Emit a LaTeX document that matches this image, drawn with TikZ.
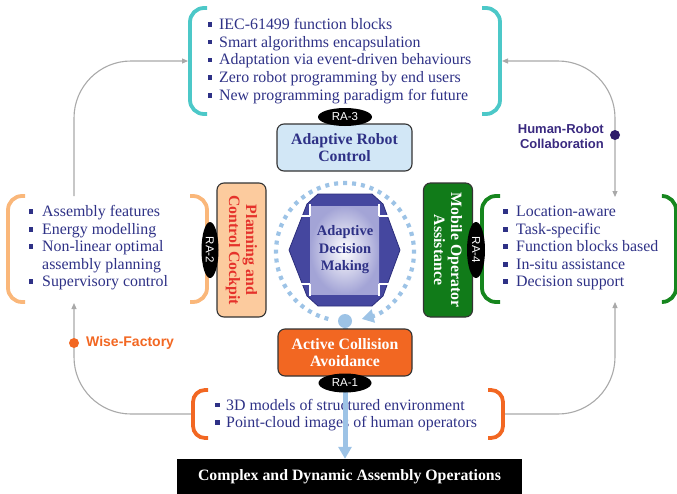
\documentclass[tikz,border=0pt]{standalone}
\usepackage{fontspec}
\setmainfont{Liberation Serif}
\newfontfamily\arialf{Liberation Sans}
\usetikzlibrary{shapes.geometric,arrows.meta}

\definecolor{navytxt}{HTML}{2E3186}
\definecolor{tealc}{HTML}{4CC8C8}
\definecolor{peachline}{HTML}{FAB77A}
\definecolor{peachfill}{HTML}{FCCB9E}
\definecolor{greenc}{HTML}{16861E}
\definecolor{greenbox}{HTML}{117B19}
\definecolor{orangec}{HTML}{F26722}
\definecolor{flowgrey}{HTML}{A9A9A9}
\definecolor{skyline}{HTML}{9DC3E6}
\definecolor{lightbluebox}{HTML}{D2E7F6}
\definecolor{redtxt}{HTML}{E5322B}
\definecolor{hrc}{HTML}{3A2A80}
\definecolor{hrcdot}{HTML}{2E1B6B}
\definecolor{admfill}{HTML}{45479F}
\definecolor{admedge}{HTML}{2C2E7C}
\definecolor{admlight}{HTML}{A3A4D6}

\tikzset{
  item/.style={anchor=base west, inner sep=0pt, font=\fontsize{15.9}{17}\selectfont, text=navytxt},
  bul/.style={fill=navytxt, minimum size=4.6pt, inner sep=0pt, draw=none},
  ratag/.style={ellipse, fill=black, text=white, inner sep=0pt,
                font=\arialf\fontsize{11.5}{12}\selectfont},
  boxbase/.style={rounded corners=7pt, draw=black!80, line width=1.1pt,
                  font=\bfseries\fontsize{15.8}{17}\selectfont, align=center, inner sep=0pt},
  brk/.style={line width=3.8pt, rounded corners=14pt},
  flowline/.style={draw=flowgrey, line width=1.1pt, rounded corners=57pt},
  gtip/.tip={Triangle[length=6pt,width=5pt]},
  bluetip/.tip={Triangle[length=12pt,width=13pt]},
  dotmark/.style={circle, minimum size=10pt, inner sep=0pt},
}

\begin{document}
\begin{tikzpicture}[x=1pt,y=-1pt]
\useasboundingbox (0,0) rectangle (677,493);

% anchor points on the brackets for the outer loop
\coordinate (botW) at (192,414);
\coordinate (botE) at (504,414);
\coordinate (lftTop) at (74,196);
\coordinate (lftBot) at (74,303);
\coordinate (topW) at (188,61);
\coordinate (topE) at (502,61);
\coordinate (rgtTop) at (615,197);
\coordinate (rgtBot) at (615,302);

% outer grey loop
\draw[flowline, -gtip] (botW) -- (botW -| lftBot) -- (lftBot);
\draw[flowline, -gtip] (lftTop) -- (lftTop |- topW) -- (topW);
\draw[flowline, gtip-gtip] (topE) -- (topE -| rgtTop) -- (rgtTop);
\draw[flowline, -gtip] (botE) -- (botE -| rgtBot) -- (rgtBot);

% loop markers
\node[dotmark, fill=orangec] (wfdot) at (74,343) {};
\node[anchor=west, inner sep=0pt, text=orangec, font=\arialf\bfseries\fontsize{14}{16}\selectfont] (wf) at (86,343) {Wise-Factory};
\node[dotmark, fill=hrcdot] (hrcdotn) at (615,135) {};
\node[anchor=east, inner sep=0pt, align=right, text=hrc, font=\arialf\bfseries\fontsize{13}{15}\selectfont] (hrcl) at (604,136) {Human-Robot\\Collaboration};

% brackets
\draw[brk, tealc] (207,8) -- (190,8) -- (190,114) -- (207,114);
\draw[brk, tealc] (482,8) -- (500,8) -- (500,114) -- (482,114);
\draw[brk, peachline] (25,196) -- (8,196) -- (8,302) -- (25,302);
\draw[brk, peachline] (190,196) -- (207,196) -- (207,302) -- (190,302);
\draw[brk, greenc] (500,196) -- (482,196) -- (482,302) -- (500,302);
\draw[brk, greenc] (663,196) -- (676,196) -- (676,302) -- (663,302);
\draw[brk, orangec, rounded corners=12pt] (208,390) -- (193,390) -- (193,438) -- (208,438);
\draw[brk, orangec, rounded corners=12pt] (488,390) -- (503,390) -- (503,438) -- (488,438);

% RA-3 list
\foreach \t [count=\i] in {IEC-61499 function blocks, Smart algorithms encapsulation,
    Adaptation via event-driven behaviours, Zero robot programming by end users,
    New programming paradigm for future} {
  \node[item] (ltop\i) at (219,{29.3+17.75*(\i-1)}) {\t};
  \node[bul] (btop\i) at (210,{24.3+17.75*(\i-1)}) {};
}

% RA-2 list
\foreach \t/\b [count=\i] in {Assembly features/1, Energy modelling/1, Non-linear optimal/1,
    assembly planning/0, Supervisory control/1} {
  \node[item] (llft\i) at (42,{216.7+17.5*(\i-1)}) {\t};
  \ifnum\b=1 \node[bul] (blft\i) at (31,{211.7+17.5*(\i-1)}) {}; \fi
}

% RA-4 list
\foreach \t [count=\i] in {Location-aware, Task-specific, Function blocks based,
    In-situ assistance, Decision support} {
  \node[item] (lrgt\i) at (516,{216.7+17.5*(\i-1)}) {\t};
  \node[bul] (brgt\i) at (505.5,{211.7+17.5*(\i-1)}) {};
}

% RA-1 list
\foreach \t [count=\i] in {3D models of structured environment, Point-cloud images of human operators} {
  \node[item] (lbot\i) at (226,{410+17.5*(\i-1)}) {\t};
  \node[bul] (bbot\i) at (217.5,{405+17.5*(\i-1)}) {};
}

% central four-way arrow
\coordinate (dmc) at (345,252);
\filldraw[fill=admfill, draw=admedge, line width=0.8pt]
  (289,250) -- (307,204) -- (318,194) -- (372,194) -- (383,204) -- (400,250)
  -- (383,296) -- (372,306) -- (318,306) -- (307,296) -- cycle;
\shade[inner color=white, outer color=admlight] (310,206) rectangle (379,294);
\draw[white, line width=1.6pt]
  (310,204) -- (310,216) (379,204) -- (379,216)
  (310,284) -- (310,296) (379,284) -- (379,296)
  (299,216) -- (310,216) (379,216) -- (390,216)
  (299,284) -- (310,284) (379,284) -- (390,284);
\node[align=center, inner sep=0pt, text=navytxt, font=\bfseries\fontsize{14.5}{17.5}\selectfont] (adm) at (345,250) {Adaptive\\Decision\\Making};

% dotted cycle around the decision core
\draw[skyline, line width=4.2pt, dash pattern=on 4pt off 5pt, -bluetip]
  ([shift={(104:69)}]dmc) arc[start angle=104, end angle=436, radius=69];

% main boxes
\node[dotmark, fill=skyline, minimum size=14pt] (sdot) at (345,321) {};
\node[fill=black, text=white, minimum width=345pt, minimum height=36pt, inner sep=0pt,
      font=\bfseries\fontsize{15.8}{17}\selectfont] (cdao) at (349.5,477) {Complex and Dynamic Assembly Operations};
\draw[skyline, line width=5pt, -bluetip] (sdot) -- (cdao.north -| sdot);

\node[boxbase, fill=lightbluebox, text=navytxt, minimum width=135pt, minimum height=47pt] (arc) at (344.5,147.5) {Adaptive Robot\\Control};
\node[ratag, minimum width=54pt, minimum height=18pt] (ra3) at (345,117) {RA-3};

\node[boxbase, fill=peachfill, text=redtxt, rotate=-90, minimum width=134pt, minimum height=49pt] (pcc) at (241.5,250) {Planning and\\Control Cockpit};
\node[ratag, rotate=-90, minimum width=56pt, minimum height=17pt] (ra2) at (210,250) {RA-2};

\node[boxbase, fill=greenbox, text=white, rotate=-90, minimum width=134pt, minimum height=49pt] (moa) at (448,250) {Mobile Operator\\Assistance};
\node[ratag, rotate=-90, minimum width=56pt, minimum height=18pt] (ra4) at (476,250) {RA-4};

\node[boxbase, fill=orangec, text=white, minimum width=134pt, minimum height=47pt] (aca) at (345,352.5) {Active Collision\\Avoidance};
\node[ratag, minimum width=53pt, minimum height=19pt] (ra1) at (345,383) {RA-1};

\end{tikzpicture}
\end{document}
